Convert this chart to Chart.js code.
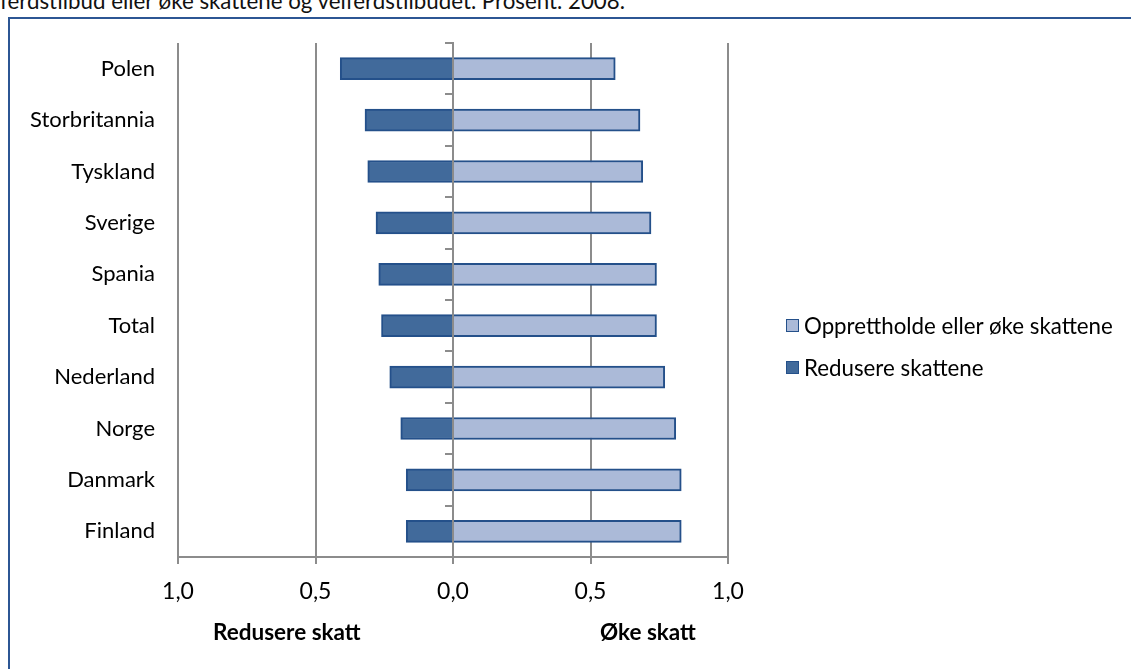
<!DOCTYPE html>
<html>
<head>
<meta charset="utf-8">
<script src="https://cdn.jsdelivr.net/npm/chart.js@4/dist/chart.umd.min.js"></script>
<style>
  html, body { margin: 0; padding: 0; background: #fff; width: 1131px; height: 669px; overflow: hidden; }
  #caption { position: absolute; left: 0; top: -10px; font: 22.3px Lato, sans-serif; line-height: 22px; color: #111; white-space: nowrap; }
  #frame { position: absolute; left: 8px; top: 17px; width: 1200px; height: 800px;
           border-left: 2px solid #2c5694; border-top: 2px solid #2c5694; }
  #wrap { position: absolute; left: 0; top: 0; width: 1131px; height: 669px; }
  .side { position: absolute; top: 619px; font: bold 22.5px Lato, sans-serif; line-height: 26px; color: #000; white-space: nowrap; }
  #legend { position: absolute; left: 786px; top: 313px; font: 22.3px Lato, sans-serif; color: #000; }
  #legend .item { display: flex; align-items: center; height: 24px; margin-bottom: 18px; white-space: nowrap; }
  #legend .swatch { width: 11px; height: 11px; margin-right: 5px; }
</style>
</head>
<body>
<div id="caption">ferdstilbud eller øke skattene og velferdstilbudet. Prosent. 2008.</div>
<div id="frame"></div>
<div id="wrap"><canvas id="c" width="1131" height="669"></canvas></div>
<div class="side" style="left:213px">Redusere skatt</div>
<div class="side" style="left:600px">Øke skatt</div>
<div id="legend"></div>
<script>
// Share of respondents in each country, 2008
const countries = ['Polen', 'Storbritannia', 'Tyskland', 'Sverige', 'Spania', 'Total', 'Nederland', 'Norge', 'Danmark', 'Finland'];
const okeSkatt = [0.59, 0.68, 0.69, 0.72, 0.74, 0.74, 0.77, 0.81, 0.83, 0.83];
const redusereSkatt = [0.41, 0.32, 0.31, 0.28, 0.27, 0.26, 0.23, 0.19, 0.17, 0.17];
const xTickLabels = ['1,0', '0,5', '0,0', '0,5', '1,0'];

const seriesNames = ['Opprettholde eller øke skattene', 'Redusere skattene'];
const lightFill = '#abbad8';
const darkFill = '#416a9b';
const edge = '#24508a';
const gridGrey = '#8c8c8c';

Chart.defaults.font.family = 'Lato, sans-serif';
Chart.defaults.color = '#000';

const chart = new Chart(document.getElementById('c'), {
  type: 'bar',
  data: {
    labels: countries,
    datasets: [
      { label: seriesNames[0], data: okeSkatt, backgroundColor: lightFill, borderColor: edge, borderWidth: 2, barThickness: 22 },
      { label: seriesNames[1], data: redusereSkatt.map(v => -v), backgroundColor: darkFill, borderColor: edge, borderWidth: 2, barThickness: 22 }
    ]
  },
  options: {
    indexAxis: 'y',
    responsive: false,
    animation: false,
    layout: { padding: { top: 43, left: 0, right: 403, bottom: 0 } },
    plugins: {
      tooltip: { enabled: false },
      legend: { display: false }
    },
    scales: {
      x: {
        stacked: true,
        min: -1, max: 1,
        ticks: {
          stepSize: 0.5,
          font: { size: 23 },
          padding: 14,
          callback: (v, i) => xTickLabels[i]
        },
        grid: { color: gridGrey, lineWidth: 2, tickLength: 7, tickColor: gridGrey },
        border: { color: gridGrey, width: 2 },
        afterFit: s => { s.height = 112; }
      },
      y: {
        stacked: true,
        position: 'left',
        grid: { display: false, drawTicks: false },
        border: { display: false },
        ticks: { font: { size: 22 }, padding: 23 },
        afterFit: s => { s.width = 178; }
      },
      // zero line with category separators, drawn above the bars
      zero: {
        type: 'category',
        axis: 'y',
        position: { x: 0 },
        offset: true,
        z: 1,
        grid: { display: true, drawOnChartArea: false, drawTicks: true, tickLength: 7, offset: true, color: gridGrey, lineWidth: 2 },
        border: { display: true, color: gridGrey, width: 2 },
        ticks: { display: false },
        afterFit: s => { s.width = 0; }
      }
    }
  }
});

// Legend built from the chart's own legend items
const legendEl = document.getElementById('legend');
Chart.defaults.plugins.legend.labels.generateLabels(chart).forEach(item => {
  const row = document.createElement('div');
  row.className = 'item';
  const sw = document.createElement('span');
  sw.className = 'swatch';
  sw.style.background = item.fillStyle;
  sw.style.border = '1.5px solid ' + item.strokeStyle;
  const tx = document.createElement('span');
  tx.textContent = item.text;
  row.appendChild(sw);
  row.appendChild(tx);
  legendEl.appendChild(row);
});
</script>
</body>
</html>
